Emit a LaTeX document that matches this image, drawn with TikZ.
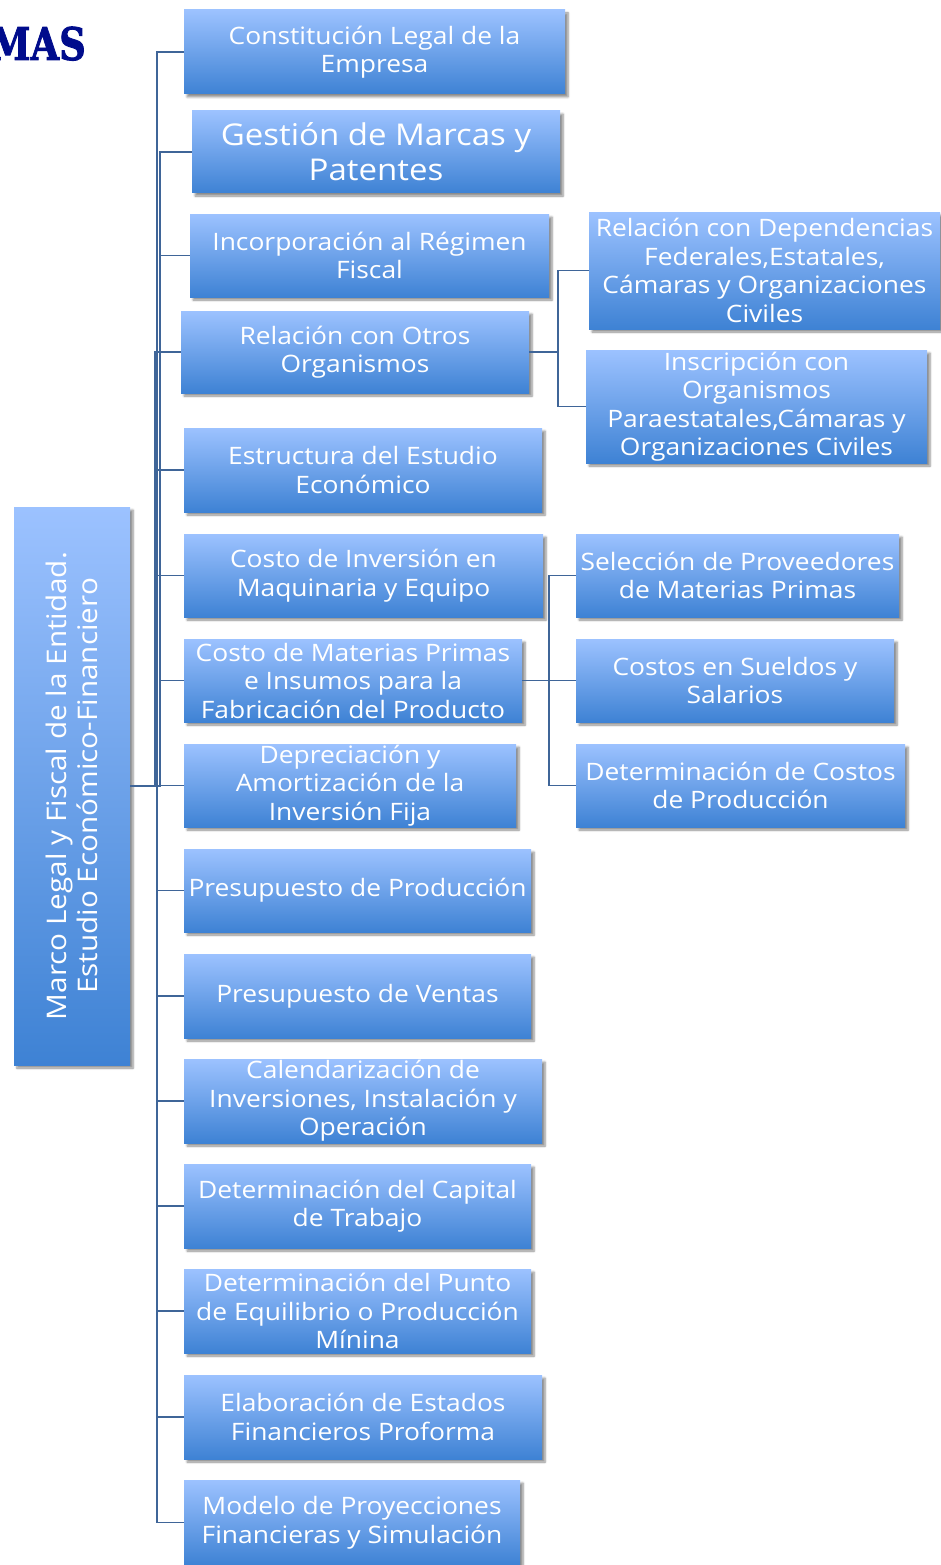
\documentclass[tikz,border=0pt]{standalone}
\usepackage{fontspec}
\setmainfont{Open Sans}[FakeStretch=1.1]
\newfontfamily\titlefont{DejaVu Serif}[BoldFeatures={FakeBold=2}]
\usetikzlibrary{shadows.blur}
\definecolor{topc}{HTML}{9CC2FF}
\definecolor{botc}{HTML}{3E82D4}
\definecolor{linec}{HTML}{3F6598}
\definecolor{navyc}{HTML}{000C8C}
\begin{document}
\begin{tikzpicture}[x=1pt,y=-1pt,
  bx/.style={rectangle, top color=topc, bottom color=botc, inner sep=0pt, align=center,
    text=white, font=\fontsize{24}{28.5}\selectfont,
    blur shadow={shadow xshift=3pt, shadow yshift=-3pt, shadow blur steps=6, shadow opacity=45}},
  wh/.style 2 args={minimum width=#1pt, minimum height=#2pt},
  conn/.style={draw=linec, line width=1.8pt}]
\useasboundingbox (0,0) rectangle (940,1565);

\node[anchor=base east, font=\titlefont\bfseries\fontsize{45}{45}\selectfont, text=navyc, inner sep=0pt, xscale=0.82] (title) at (86,60) {MAS};

\node[bx, wh={116}{558}] (root) at (72,786) {};
\node[rotate=90, text=white, align=center, inner sep=0pt, font=\fontsize{27}{31}\selectfont] (roottxt) at (root.center) {Marco Legal y Fiscal de la Entidad.\\Estudio Económico-Financiero};

\node[bx, wh={381}{84}] (c1) at (374.5,52) {Constitución Legal de la\\Empresa};
\node[bx, wh={368}{82}, font=\fontsize{30}{35}\selectfont] (c2) at (376,152) {Gestión de Marcas y\\Patentes};
\node[bx, wh={359}{83}] (c3) at (369.5,255.5) {Incorporación al Régimen\\Fiscal};
\node[bx, wh={348}{82}] (c4) at (355,352) {Relación con Otros\\Organismos};
\node[bx, wh={358}{84}] (c5) at (363,470) {Estructura del Estudio\\Económico};
\node[bx, wh={359}{83}] (c6) at (363.5,575.5) {Costo de Inversión en\\Maquinaria y Equipo};
\node[bx, wh={338}{83}] (c7) at (353,680.5) {Costo de Materias Primas\\e Insumos para la\\Fabricación del Producto};
\node[bx, wh={332}{83}] (c8) at (350,785.5) {Depreciación y\\Amortización de la\\Inversión Fija};
\node[bx, wh={347}{83}] (c9) at (357.5,890.5) {Presupuesto de Producción};
\node[bx, wh={347}{84}] (c10) at (357.5,996) {Presupuesto de Ventas};
\node[bx, wh={358}{84}] (c11) at (363,1101) {Calendarización de\\Inversiones, Instalación y\\Operación};
\node[bx, wh={347}{84}] (c12) at (357.5,1206) {Determinación del Capital\\de Trabajo};
\node[bx, wh={347}{84}] (c13) at (357.5,1311) {Determinación del Punto\\de Equilibrio o Producción\\Mínina};
\node[bx, wh={358}{84}] (c14) at (363,1417) {Elaboración de Estados\\Financieros Proforma};
\node[bx, wh={336}{85}] (c15) at (352,1522.5) {Modelo de Proyecciones\\Financieras y Simulación};

\node[bx, wh={351}{117}] (r1) at (764.5,270.5) {Relación con Dependencias\\Federales,Estatales,\\Cámaras y Organizaciones\\Civiles};
\node[bx, wh={341}{113}] (r2) at (756.5,406.5) {Inscripción con\\Organismos\\Paraestatales,Cámaras y\\Organizaciones Civiles};
\node[bx, wh={323}{83}] (r3) at (737.5,575.5) {Selección de Proveedores\\de Materias Primas};
\node[bx, wh={318}{83}] (r4) at (735,680.5) {Costos en Sueldos y\\Salarios};
\node[bx, wh={329}{83}] (r5) at (740.5,785.5) {Determinación de Costos\\de Producción};

\draw[conn] (root.east) -- ++(27,0) |- (c1.west);
\draw[conn] (root.east) -- ++(30,0) |- (c2.west);
\draw[conn] (root.east) -- ++(30,0) |- (c3.west);
\draw[conn] (root.east) -- ++(25,0) |- (c4.west);
\draw[conn] (root.east) -- ++(27,0) |- (c5.west);
\draw[conn] (root.east) -- ++(27,0) |- (c6.west);
\draw[conn] (root.east) -- ++(30,0) |- (c7.west);
\draw[conn] (root.east) -- ++(30,0) |- (c8.west);
\draw[conn] (root.east) -- ++(27,0) |- (c9.west);
\draw[conn] (root.east) -- ++(27,0) |- (c10.west);
\draw[conn] (root.east) -- ++(27,0) |- (c11.west);
\draw[conn] (root.east) -- ++(27,0) |- (c12.west);
\draw[conn] (root.east) -- ++(27,0) |- (c13.west);
\draw[conn] (root.east) -- ++(27,0) |- (c14.west);
\draw[conn] (root.east) -- ++(27,0) |- (c15.west);

\draw[conn] (c4.east) -- ++(29,0) |- (r1.west);
\draw[conn] (c4.east) -- ++(29,0) |- (r2.west);
\draw[conn] (c7.east) -- ++(27,0) |- (r3.west);
\draw[conn] (c7.east) -- ++(27,0) |- (r4.west);
\draw[conn] (c7.east) -- ++(27,0) |- (r5.west);
\end{tikzpicture}
\end{document}
